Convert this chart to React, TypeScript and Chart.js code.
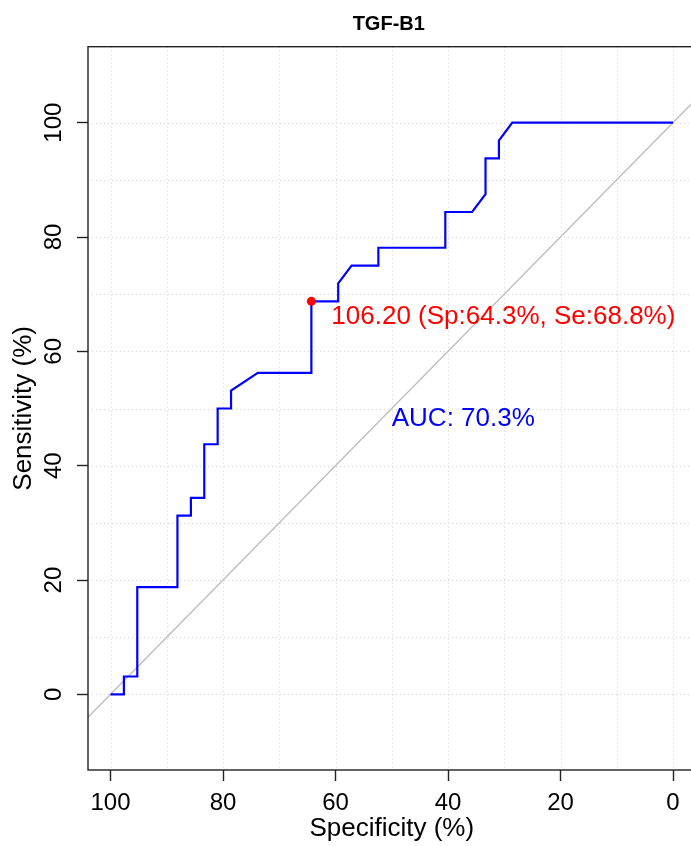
import React, { useEffect, useRef } from "react";
import { Chart, registerables } from "chart.js";

Chart.register(...registerables);

// ROC curve for TGF-B1 (specificity %, sensitivity %)
const specificity = [100, 97.62, 97.62, 95.24, 95.24, 88.1, 88.1, 85.71, 85.71, 83.33, 83.33, 80.95, 80.95, 78.57, 78.57, 73.81, 64.29, 64.29, 59.52, 59.52, 57.14, 52.38, 52.38, 40.48, 40.48, 35.71, 33.33, 33.33, 30.95, 30.95, 28.57, 0];
const sensitivity = [0, 0, 3.125, 3.125, 18.75, 18.75, 31.25, 31.25, 34.375, 34.375, 43.75, 43.75, 50, 50, 53.125, 56.25, 56.25, 68.75, 68.75, 71.875, 75, 75, 78.125, 78.125, 84.375, 84.375, 87.5, 93.75, 93.75, 96.875, 100, 100];

// chance diagonal
const diagSpec = [104, -4];
const diagSens = [-4, 104];

// best threshold
const bestSpec = [64.29];
const bestSens = [68.75];
const bestLabel = "106.20 (Sp:64.3%, Se:68.8%)";

// AUC label position
const aucLabel = "AUC: 70.3%";
const aucPos = [50, 50];

const chartTitle = "TGF-B1";
const xTitle = "Specificity (%)";
const yTitle = "Sensitivity (%)";
const gridValues = [0, 10, 20, 30, 40, 50, 60, 70, 80, 90, 100];
const labelValues = [0, 20, 40, 60, 80, 100];

const FONT = "'Liberation Sans', Arial, Helvetica, sans-serif";

const rocPlugin = {
  id: "rocDecor",
  beforeDatasetsDraw(chart: any) {
    const { ctx, chartArea: a, scales } = chart;
    const x = scales.x;
    const y = scales.y;
    ctx.save();
    ctx.strokeStyle = "#d4d4d4";
    ctx.lineWidth = 1;
    ctx.setLineDash([1, 3]);
    for (const v of gridValues) {
      const px = Math.round(x.getPixelForValue(v)) + 0.5;
      ctx.beginPath();
      ctx.moveTo(px, a.top);
      ctx.lineTo(px, a.bottom);
      ctx.stroke();
      const py = Math.round(y.getPixelForValue(v)) + 0.5;
      ctx.beginPath();
      ctx.moveTo(a.left, py);
      ctx.lineTo(a.right, py);
      ctx.stroke();
    }
    ctx.restore();
  },
  afterDatasetsDraw(chart: any) {
    const { ctx, chartArea: a, scales } = chart;
    const x = scales.x;
    const y = scales.y;
    ctx.save();
    // box
    ctx.strokeStyle = "#222";
    ctx.lineWidth = 1.4;
    ctx.strokeRect(a.left, a.top, a.right - a.left, a.bottom - a.top);

    // title
    ctx.fillStyle = "#000";
    ctx.font = `bold 20px ${FONT}`;
    ctx.textAlign = "center";
    ctx.textBaseline = "middle";
    ctx.fillText(chartTitle, (a.left + a.right) / 2 - 3, 24);

    // AUC
    ctx.fillStyle = "#0000FF";
    ctx.font = `26px ${FONT}`;
    ctx.textAlign = "left";
    ctx.textBaseline = "middle";
    ctx.fillText(aucLabel, x.getPixelForValue(aucPos[0]), y.getPixelForValue(aucPos[1]) + 10);

    // threshold
    ctx.fillStyle = "#FF0000";
    ctx.fillText(bestLabel, x.getPixelForValue(bestSpec[0]) + 20, y.getPixelForValue(bestSens[0]) + 15);
    ctx.restore();
  },
};

export default function App() {
  const ref = useRef<HTMLCanvasElement | null>(null);

  useEffect(() => {
    if (!ref.current) return;
    const tickColor = (c: any) => (c.tick && labelValues.includes(c.tick.value) ? "#222" : "rgba(0,0,0,0)");
    const chart = new Chart(ref.current, {
      type: "line",
      data: {
        datasets: [
          {
            label: "best",
            data: bestSpec.map((s, i) => ({ x: s, y: bestSens[i] })),
            showLine: false,
            pointRadius: 4.5,
            pointBackgroundColor: "#FF0000",
            pointBorderColor: "#FF0000",
            pointBorderWidth: 0,
            order: 0,
          },
          {
            label: "ROC",
            data: specificity.map((s, i) => ({ x: s, y: sensitivity[i] })),
            borderColor: "#0000FF",
            borderWidth: 2.2,
            pointRadius: 0,
            tension: 0,
            fill: false,
            order: 1,
          },
          {
            label: "chance",
            data: diagSpec.map((s, i) => ({ x: s, y: diagSens[i] })),
            borderColor: "#bdbdbd",
            borderWidth: 1.3,
            pointRadius: 0,
            fill: false,
            order: 2,
          },
        ],
      },
      options: {
        responsive: false,
        animation: false,
        devicePixelRatio: 1,
        layout: { padding: { left: 0, right: 1.7, top: 46.7, bottom: 0 } },
        plugins: {
          legend: { display: false },
          tooltip: { enabled: false },
          title: { display: false },
        },
        scales: {
          x: {
            type: "linear",
            reverse: true,
            min: -4,
            max: 104,
            afterBuildTicks: (s: any) => {
              s.ticks = gridValues.map((v) => ({ value: v }));
            },
            afterFit: (s: any) => {
              s.height = 76;
            },
            ticks: {
              autoSkip: false,
              maxRotation: 0,
              minRotation: 0,
              padding: 8,
              color: "#000",
              font: { family: FONT, size: 24 },
              callback: (v: any) => (labelValues.includes(Number(v)) ? String(v) : ""),
            },
            grid: {
              drawOnChartArea: false,
              drawTicks: true,
              tickLength: 11,
              tickWidth: 1.4,
              tickColor: tickColor,
              color: "rgba(0,0,0,0)",
            },
            border: { display: false },
            title: {
              display: true,
              text: xTitle,
              color: "#000",
              font: { family: FONT, size: 26, lineHeight: 1.2 },
              padding: { top: 0, bottom: 2 },
            },
          },
          y: {
            type: "linear",
            min: -13.23,
            max: 113.29,
            afterBuildTicks: (s: any) => {
              s.ticks = gridValues.map((v) => ({ value: v }));
            },
            afterFit: (s: any) => {
              s.width = 88;
            },
            ticks: {
              autoSkip: false,
              minRotation: 90,
              maxRotation: 90,
              crossAlign: "center",
              padding: 3,
              color: "#000",
              font: { family: FONT, size: 24 },
              callback: (v: any) => (labelValues.includes(Number(v)) ? String(v) : ""),
            },
            grid: {
              drawOnChartArea: false,
              drawTicks: true,
              tickLength: 11,
              tickWidth: 1.4,
              tickColor: tickColor,
              color: "rgba(0,0,0,0)",
            },
            border: { display: false },
            title: {
              display: true,
              text: yTitle,
              color: "#000",
              font: { family: FONT, size: 26, lineHeight: 1.2 },
              padding: { top: 8, bottom: 0 },
            },
          },
        },
      },
      plugins: [rocPlugin],
    } as any);
    return () => chart.destroy();
  }, []);

  return (
    <div
      style={{
        position: "fixed",
        left: 0,
        top: 0,
        width: "691px",
        height: "846px",
        overflow: "hidden",
        background: "#fff",
      }}
    >
      <canvas ref={ref} width={700} height={846} style={{ display: "block", width: "700px", height: "846px" }} />
    </div>
  );
}
